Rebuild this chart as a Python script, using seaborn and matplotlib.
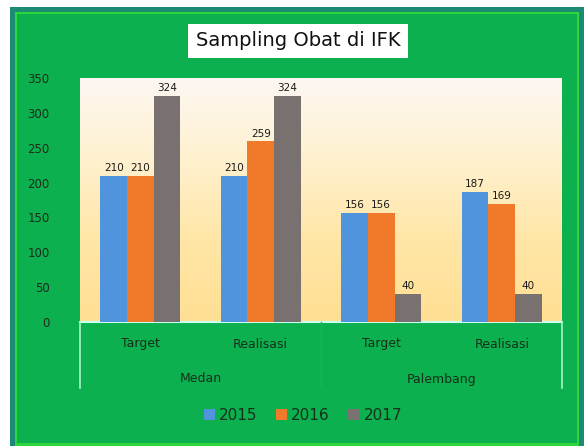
import numpy as np
import pandas as pd
import matplotlib
matplotlib.use('Agg')
import matplotlib.pyplot as plt
import seaborn as sns
from matplotlib.patches import Rectangle
from matplotlib.colors import LinearSegmentedColormap
from matplotlib.lines import Line2D

# Data
cities = ['Medan', 'Medan', 'Palembang', 'Palembang']
kinds = ['Target', 'Realisasi', 'Target', 'Realisasi']
years = ['2015', '2016', '2017']
val_2015 = [210, 210, 156, 187]
val_2016 = [210, 259, 156, 169]
val_2017 = [324, 324, 40, 40]

colors = ['#4f94dc', '#f07a2a', '#78716f']
green = '#0cb04e'

rows = []
for i in range(4):
    for y, vals in zip(years, [val_2015, val_2016, val_2017]):
        rows.append({'grp': f'{cities[i]}-{kinds[i]}', 'kind': kinds[i],
                     'year': y, 'value': vals[i]})
df = pd.DataFrame(rows)

W, H = 584, 446
fig = plt.figure(figsize=(W / 100, H / 100), dpi=100)
fig.patch.set_facecolor('white')

def box(x0, y0, x1, y1, **kw):
    # pixel coords (top-left origin) -> figure fraction
    fig.add_artist(Rectangle((x0 / W, 1 - y1 / H), (x1 - x0) / W, (y1 - y0) / H,
                             transform=fig.transFigure, **kw))

def px(x, y):
    return x / W, 1 - y / H

# frame: teal border, bright green line, green fill
box(10, 7, 584, 446, facecolor='#1d8a76', edgecolor='none', zorder=-3)
box(15, 12, 579, 446, facecolor='#2fd63a', edgecolor='none', zorder=-2)
box(17, 14, 577, 443, facecolor=green, edgecolor='none', zorder=-1)

# plot area
x0, x1, ytop, ybot = 80, 562, 78, 322
ax = fig.add_axes([x0 / W, 1 - ybot / H, (x1 - x0) / W, (ybot - ytop) / H])
ax.set_facecolor('none')

sns.barplot(data=df, x='grp', y='value', hue='year', palette=colors,
            width=0.66, gap=0, saturation=1, ax=ax, zorder=3, legend=False)

ax.set_xlim(-0.5, 3.5)
ax.set_ylim(0, 350)

# gradient background (white-ish on top, light yellow at bottom)
cmap = LinearSegmentedColormap.from_list('bg', ['#fdf7f2', '#fff1cf', '#ffe6a6', '#ffdf94'])
grad = np.linspace(0, 1, 256).reshape(-1, 1)
ax.imshow(grad, extent=[-0.5, 3.5, 0, 350], aspect='auto', cmap=cmap,
          zorder=0, vmin=0, vmax=1, origin='upper')

for c in ax.containers:
    ax.bar_label(c, fmt='%d', fontsize=7.5, color='#1a1a1a', padding=2)

ax.set_yticks(range(0, 351, 50))
ax.set_yticklabels([str(v) for v in range(0, 351, 50)], fontsize=8.5, color='#1e2a1e')
ax.tick_params(axis='y', length=0, pad=22)
ax.set_xticks([])
ax.set_xlabel('')
ax.set_ylabel('')
for s in ['top', 'right', 'left']:
    ax.spines[s].set_visible(False)
ax.spines['bottom'].set_color('#c8fff0')
ax.spines['bottom'].set_linewidth(1.5)

# category axis below plot area
for xx in [x0, x1]:
    fig.add_artist(Line2D([xx / W, xx / W], [1 - 322 / H, 1 - 388 / H],
                          transform=fig.transFigure, color='#a8f5c8', lw=1.2))
fig.add_artist(Line2D([321 / W, 321 / W], [1 - 322 / H, 1 - 388 / H],
                      transform=fig.transFigure, color='#14b656', lw=1))

gw = (x1 - x0) / 4
for i, k in enumerate(kinds):
    cx = x0 + gw * (i + 0.5)
    fig.text(*px(cx, 344), k, ha='center', va='center', fontsize=9, color='#16301c')
fig.text(*px(x0 + gw, 379), 'Medan', ha='center', va='center', fontsize=9, color='#16301c')
fig.text(*px(x0 + 3 * gw, 379), 'Palembang', ha='center', va='center', fontsize=9, color='#16301c')

# title in white box
fig.text(*px(298, 41), 'Sampling Obat di IFK', ha='center', va='center',
         fontsize=14, color='#111111',
         bbox=dict(boxstyle='square,pad=0.38', facecolor='white', edgecolor='none'))

# legend
handles = [Rectangle((0, 0), 1, 1, facecolor=c) for c in colors]
fig.legend(handles, years, loc='center', bbox_to_anchor=px(303, 415), ncol=3,
           frameon=False, fontsize=11, handlelength=0.7, handleheight=0.7,
           handletextpad=0.3, columnspacing=1.2, labelcolor='#16301c')

fig.savefig('out.png', dpi=100, facecolor=fig.get_facecolor())
